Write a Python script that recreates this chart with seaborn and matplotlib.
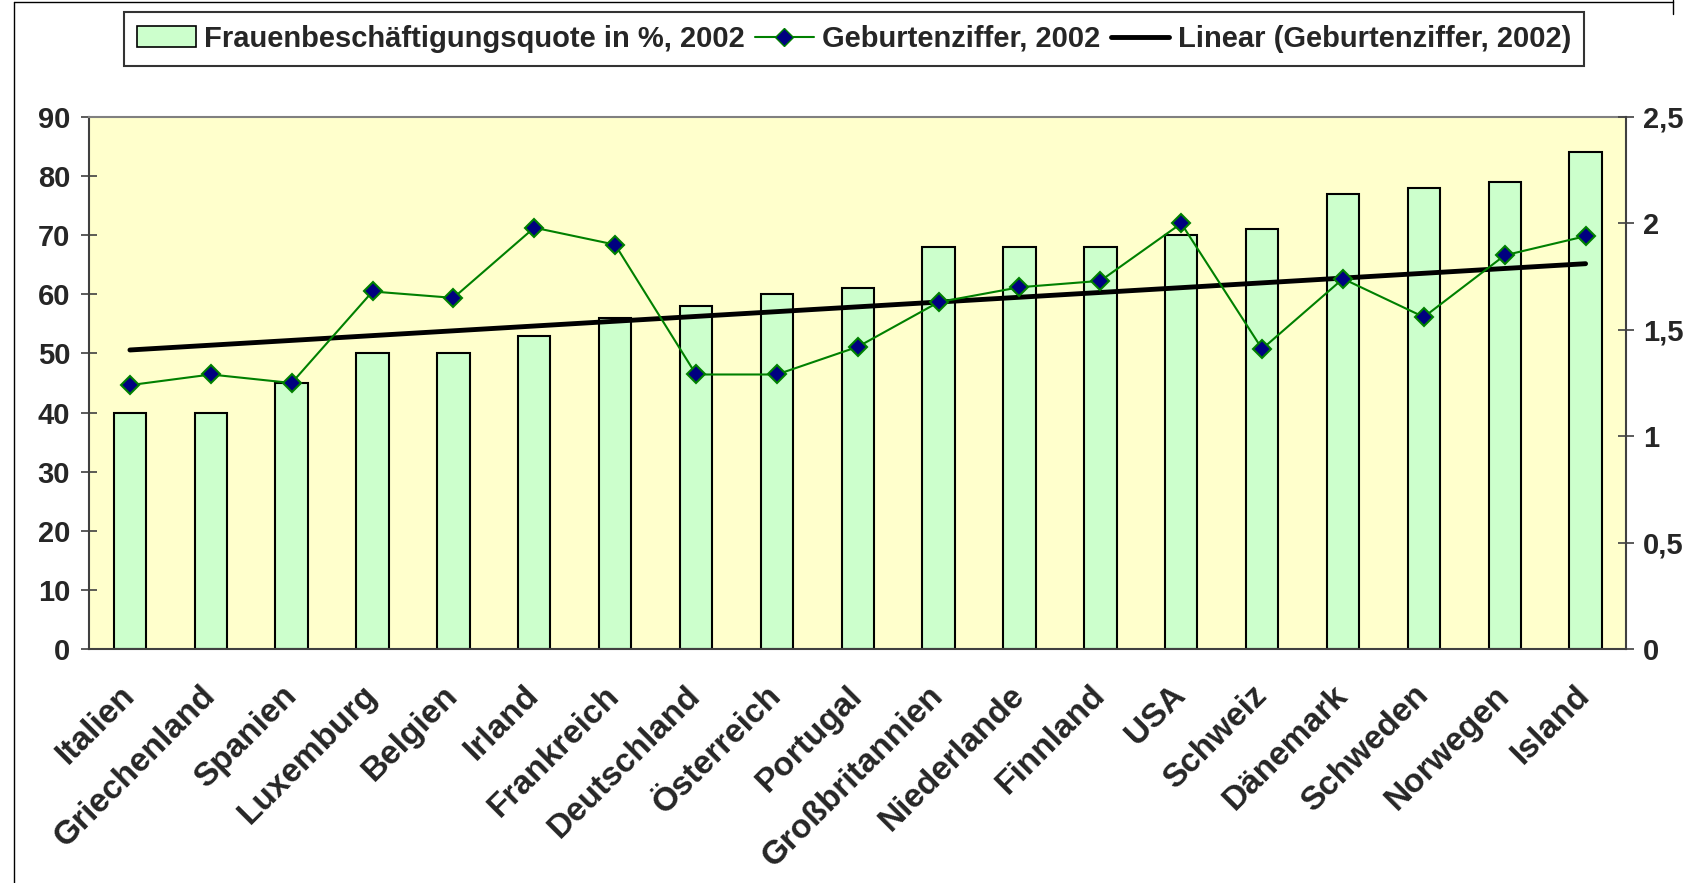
import numpy as np
import pandas as pd
import seaborn as sns
import matplotlib.pyplot as plt
import matplotlib.transforms as mtransforms
from matplotlib.lines import Line2D
from matplotlib.patches import Patch
from matplotlib.ticker import FuncFormatter

# Daten
laender = ['Italien', 'Griechenland', 'Spanien', 'Luxemburg', 'Belgien', 'Irland', 'Frankreich',
           'Deutschland', 'Österreich', 'Portugal', 'Großbritannien', 'Niederlande', 'Finnland',
           'USA', 'Schweiz', 'Dänemark', 'Schweden', 'Norwegen', 'Island']
quote = [40, 40, 45, 50, 50, 53, 56, 58, 60, 61, 68, 68, 68, 70, 71, 77, 78, 79, 84]
geburten = [1.24, 1.29, 1.25, 1.68, 1.65, 1.98, 1.90, 1.29, 1.29, 1.42,
            1.63, 1.70, 1.73, 2.00, 1.41, 1.74, 1.56, 1.85, 1.94]

df = pd.DataFrame({'Land': laender, 'Quote': quote, 'Geburten': geburten})
df['pos'] = np.arange(len(df))

# lineare Trendlinie (wie Excel)
m, b = np.polyfit(df['pos'], df['Geburten'], 1)
df['Trend'] = m * df['pos'] + b

sns.set_style('white')
plt.rcParams['font.family'] = ['Liberation Sans', 'DejaVu Sans']
plt.rcParams['font.weight'] = 'bold'

fig = plt.figure(figsize=(16.95, 8.83), dpi=100)
ax = fig.add_axes([0.0528, 0.265, 0.9065, 0.6025])
ax.set_facecolor('#FFFFCC')

sns.barplot(data=df, x='pos', y='Quote', native_scale=True, color='#CCFFCC', saturation=1,
            edgecolor='black', linewidth=1.5, width=0.4, ax=ax)

ax2 = ax.twinx()
sns.lineplot(data=df, x='pos', y='Trend', ax=ax2, color='black', lw=3.5)
sns.lineplot(data=df, x='pos', y='Geburten', ax=ax2, color='#008000', lw=1.5,
             marker='D', markersize=9, markerfacecolor='#000080',
             markeredgecolor='#008000', markeredgewidth=1.5)

n = len(laender)
ax.set_xlim(-0.5, n - 0.5)
ax.set_ylim(0, 90)
ax2.set_ylim(0, 2.5)
ax.set_yticks(range(0, 91, 10))
ax2.set_yticks(np.arange(0, 2.51, 0.5))
ax2.yaxis.set_major_formatter(FuncFormatter(lambda v, p: ('%g' % v).replace('.', ',')))

ax.set_xticks(range(n))
ax.set_xticklabels(laender, rotation=45, ha='right', va='center', rotation_mode='anchor', fontsize=24)
# Beschriftung etwas nach links schieben
verschiebung = mtransforms.ScaledTranslation(-0.1, 0, fig.dpi_scale_trans)
for lab in ax.get_xticklabels():
    lab.set_transform(lab.get_transform() + verschiebung)
ax.set_xticks(np.arange(-0.5, n, 1), minor=True)
ax.tick_params(axis='x', which='major', length=0, pad=30)
ax.tick_params(axis='x', which='minor', direction='inout', length=12, width=1.2, color='#404040')
ax.tick_params(axis='y', direction='inout', length=12, width=1.2, color='#404040', labelsize=21, pad=8)
ax2.tick_params(axis='y', direction='inout', length=12, width=1.2, color='#404040', labelsize=21, pad=6)
ax.set_xlabel('')
ax.set_ylabel('')
ax2.set_ylabel('')

for s in ['left', 'bottom']:
    ax.spines[s].set_color('#404040')
    ax.spines[s].set_linewidth(1.5)
ax.spines['top'].set_color('#808080')
ax.spines['top'].set_linewidth(1.5)
ax.spines['right'].set_visible(False)
for s in ['left', 'bottom', 'top']:
    ax2.spines[s].set_visible(False)
ax2.spines['right'].set_color('#404040')
ax2.spines['right'].set_linewidth(1.5)

# Legende oben
handles = [Patch(facecolor='#CCFFCC', edgecolor='black', linewidth=1.2),
           Line2D([], [], color='#008000', lw=1.5, marker='D', markersize=9,
                  markerfacecolor='#000080', markeredgecolor='#008000'),
           Line2D([], [], color='black', lw=3.5)]
labels = ['Frauenbeschäftigungsquote in %, 2002', 'Geburtenziffer, 2002', 'Linear (Geburtenziffer, 2002)']
leg = fig.legend(handles, labels, loc='center', bbox_to_anchor=(0.504, 0.956), ncol=3,
                 fontsize=21, frameon=True, fancybox=False, edgecolor='black',
                 handlelength=2, handletextpad=0.3, columnspacing=0.35, borderpad=0.45)
leg.get_frame().set_linewidth(1.5)

# Rahmen des Diagrammbereichs
fig.add_artist(Line2D([0.0085, 0.0085], [0, 0.998], transform=fig.transFigure, color='black', lw=1))
fig.add_artist(Line2D([0.0085, 0.987], [0.998, 0.998], transform=fig.transFigure, color='black', lw=1))
fig.add_artist(Line2D([0.987, 0.987], [0.984, 1], transform=fig.transFigure, color='black', lw=1))

fig.savefig('out.png', dpi=100)
